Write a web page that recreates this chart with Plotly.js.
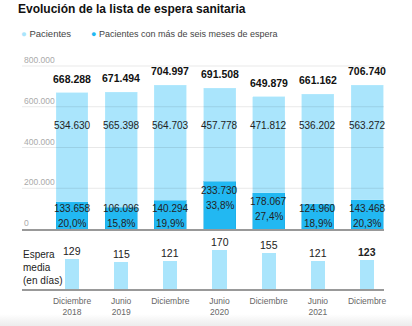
<!DOCTYPE html>
<html><head><meta charset="utf-8">
<script src="https://cdn.plot.ly/plotly-3.0.1.min.js"></script>
<style>
html,body{margin:0;padding:0;background:#fff;}
#chart{width:412px;height:326px;}
#shade{position:absolute;left:0;top:314px;width:412px;height:12px;background:linear-gradient(#ffffff00,#ececec);pointer-events:none;}
</style></head>
<body><div id="chart"></div><div id="shade"></div>
<script>
const categories = ["Diciembre<br>2018","Junio<br>2019","Diciembre","Junio<br>2020","Diciembre","Junio<br>2021","Diciembre"];
const totals = [668288, 671494, 704997, 691508, 649879, 661162, 706740];
const under6 = [534630, 565398, 564703, 457778, 471812, 536202, 563272];
const over6 = [133658, 106096, 140294, 233730, 178067, 124960, 143468];
const pctOver6 = ["20,0%","15,8%","19,9%","33,8%","27,4%","18,9%","20,3%"];
const esperaMedia = [129, 115, 121, 170, 155, 121, 123];
const yTicks = [0, 200000, 400000, 600000, 800000];
const yTickText = ["0","200.000","400.000","600.000","800.000"];

const LIGHT = "#aae5fc", DARK = "#22b8f2";
const FONT = "Liberation Sans, Arial, sans-serif";
const idx = categories.map((c,i)=>i);
const fmt = v => v.toLocaleString('de-DE');

const traces = [
  {type:'bar', x:idx, y:over6, width:0.65, marker:{color:DARK, line:{color:'#1aa9e2', width:0.5}}, hoverinfo:'none', showlegend:false, xaxis:'x', yaxis:'y'},
  {type:'bar', x:idx, y:under6, width:0.65, marker:{color:LIGHT, line:{color:'#b8ebfd', width:0.5}}, hoverinfo:'none', showlegend:false, xaxis:'x', yaxis:'y'},
  {type:'bar', x:idx, y:esperaMedia, width:0.29, marker:{color:LIGHT}, hoverinfo:'none', showlegend:false, xaxis:'x2', yaxis:'y2'}
];

const ann = [];
const shapes = [];
const NUM = {family:FONT, size:10, color:'#222'};
yTicks.forEach((v,k)=>{
  ann.push({x:22/412, y:v, xref:'paper', yref:'y', text:yTickText[k], showarrow:false, xanchor:'left', yanchor:'bottom', yshift:-1, font:{family:FONT, size:8.5, color:'#aaa'}});
  if (v > 0) shapes.push({type:'line', xref:'x domain', yref:'y', x0:0, x1:1, y0:v, y1:v, layer:'above', line:{color:'rgba(0,0,0,0.09)', width:1}});
});
idx.forEach(i=>{
  ann.push({x:i, y:totals[i], xref:'x', yref:'y', text:'<b>'+fmt(totals[i])+'</b>', showarrow:false, yanchor:'middle', yshift:14, font:{family:FONT, size:10.5, color:'#111'}});
  ann.push({x:i, y:510000, xref:'x', yref:'y', text:fmt(under6[i]), showarrow:false, yanchor:'middle', font:NUM});
  const ly = Math.max(over6[i]-44000, 103000);
  ann.push({x:i, y:ly, xref:'x', yref:'y', text:fmt(over6[i]), showarrow:false, yanchor:'middle', font:NUM});
  ann.push({x:i, y:ly-73600, xref:'x', yref:'y', text:pctOver6[i], showarrow:false, yanchor:'middle', font:NUM});
  ann.push({x:i, y:esperaMedia[i], xref:'x2', yref:'y2', text: i===6 ? '<b>'+esperaMedia[i]+'</b>' : String(esperaMedia[i]), showarrow:false, yanchor:'middle', yshift:8, font:{family:FONT, size:10.5, color:'#222'}});
});
ann.push({x:21/412, y:1-267/326, xref:'paper', yref:'paper', xanchor:'left', yanchor:'middle', align:'left', text:'Espera<br>media<br>(en días)', showarrow:false, font:{family:FONT, size:10, color:'#222'}});
ann.push({x:19/412, y:1-34/326, xref:'paper', yref:'paper', xanchor:'left', yanchor:'middle', align:'left', text:'<span style="color:'+LIGHT+'">●</span> Pacientes', showarrow:false, font:{family:FONT, size:9.5, color:'#444'}});
ann.push({x:89/412, y:1-34/326, xref:'paper', yref:'paper', xanchor:'left', yanchor:'middle', align:'left', text:'<span style="color:'+DARK+'">●</span> Pacientes con más de seis meses de espera', showarrow:false, font:{family:FONT, size:9, color:'#444'}});

const xr = [-1.017, 6.345];
const yTop = 860000;
const pxPer = 163/800000;
const layout = {
  width:412, height:326, margin:{l:0,r:0,t:0,b:0}, paper_bgcolor:'#fff', plot_bgcolor:'#fff',
  barmode:'stack', bargap:0, showlegend:false,
  title:{text:'<b>Evolución de la lista de espera sanitaria</b>', x:18/412, xanchor:'left', y:1-9/326, yanchor:'middle', font:{family:FONT, size:12, color:'#111'}},
  xaxis:{domain:[22/412, 384/412], range:xr, anchor:'y', showgrid:false, zeroline:false, showticklabels:false, ticks:'', showline:true, linecolor:'#999', linewidth:2, fixedrange:true},
  yaxis:{domain:[(326-229)/326, (326-229+yTop*pxPer)/326], range:[0,yTop], anchor:'x', showticklabels:false, showgrid:false, zeroline:false, ticks:'', fixedrange:true},
  xaxis2:{domain:[22/412, 384/412], range:xr, anchor:'y2', tickvals:idx, ticktext:categories, showgrid:false, zeroline:false, ticks:'', ticklabelstandoff:3, showline:true, linecolor:'#999', linewidth:2, tickfont:{family:FONT, size:8.5, color:'#666'}, fixedrange:true},
  yaxis2:{domain:[(326-289)/326, (326-242.6)/326], range:[0,200], anchor:'x2', showgrid:false, zeroline:false, showticklabels:false, ticks:'', fixedrange:true},
  shapes:shapes,
  annotations:ann
};
Plotly.newPlot('chart', traces, layout, {staticPlot:true, displayModeBar:false});
</script></body></html>
